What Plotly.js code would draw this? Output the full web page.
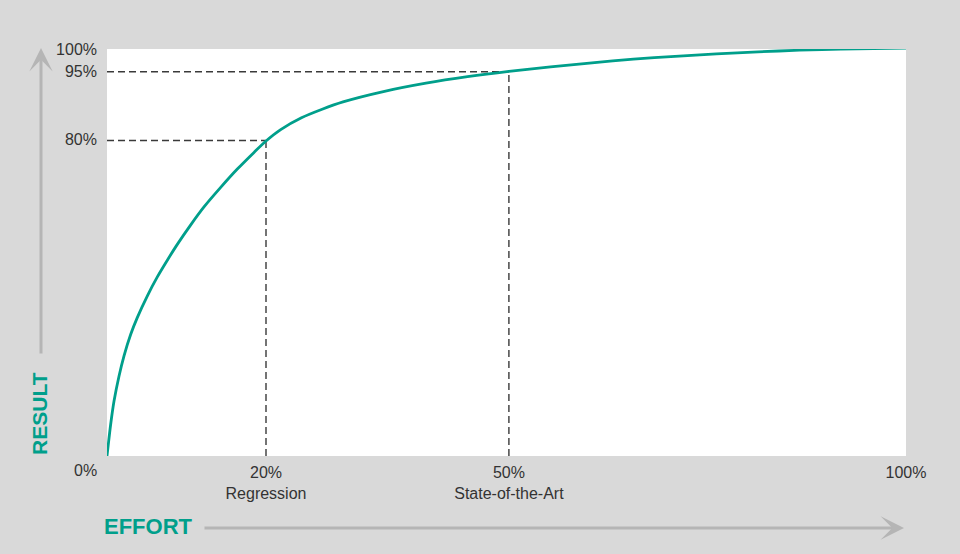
<!DOCTYPE html>
<html>
<head>
<meta charset="utf-8">
<script src="https://cdn.plot.ly/plotly-3.0.1.min.js"></script>
<style>
  html, body { margin: 0; padding: 0; background: #d9d9d9; }
  #chart { width: 960px; height: 554px; }
</style>
</head>
<body>
<div id="chart"></div>
<script>
// Effort (%) and result (position on the result axis)
const effort = [0, 0.46, 0.88, 1.5, 2.13, 2.97, 3.79, 5.04, 6.3, 7.55, 8.8, 10.48, 12.14, 14.23, 16.31, 18.4, 19.9, 21.74, 24.34, 26.93, 29.54, 34.73, 39.92, 45.12, 50.3, 55.51, 60.7, 65.88, 71.09, 76.27, 81.48, 86.66, 91.86, 100];
const result = [0, 7.8, 13.5, 19.6, 24.6, 29.9, 34.0, 39.3, 44.0, 48.1, 52.0, 56.8, 61.2, 66.0, 70.5, 74.6, 77.4, 80.2, 83.1, 85.2, 87.0, 89.6, 91.6, 93.2, 94.5, 95.6, 96.6, 97.5, 98.2, 98.8, 99.3, 99.7, 100.0, 100.2];

// Reference points marked with dashed guides
const markerX = [19.9, 50.3];
const markerY = [77.5, 94.4];

// Tick labels
const xTickVals = [19.9, 50.3, 100];
const xTickText = ['20%<br>Regression', '50%<br>State-of-the-Art', '100%'];
const yTickVals = [77.7, 94.4, 100];
const yTickText = ['80%', '95%', '100%'];

const teal = '#009f8b';
const arrowGray = '#b5b5b5';
const textColor = '#333333';

const traces = [{
  x: effort,
  y: result,
  type: 'scatter',
  mode: 'lines',
  line: { color: teal, width: 2.8, shape: 'spline', smoothing: 0.8 },
  cliponaxis: false,
  hoverinfo: 'skip'
}];

const shapes = [];
markerX.forEach((mx, i) => {
  const my = markerY[i];
  shapes.push({ type: 'line', xref: 'x', yref: 'y', x0: 0, x1: mx, y0: my, y1: my,
    line: { color: '#3a3a3a', width: 1.4, dash: '7px,4px' }, layer: 'below' });
  shapes.push({ type: 'line', xref: 'x', yref: 'y', x0: mx, x1: mx, y0: 0, y1: my,
    line: { color: '#3a3a3a', width: 1.4, dash: '7px,4px' }, layer: 'below' });
});

const annotations = [
  // 0% corner label
  { x: 0, y: 0, xref: 'x', yref: 'paper', text: '0%', showarrow: false,
    xanchor: 'center', yanchor: 'top', xshift: -22, yshift: -4,
    font: { family: 'Liberation Sans, Arial, sans-serif', size: 16, color: textColor } },
  // vertical arrow (RESULT)
  { x: -0.0826, y: 1.0025, xref: 'paper', yref: 'paper', ax: 0, ay: 307,
    axref: 'pixel', ayref: 'pixel', showarrow: true, arrowhead: 3, arrowsize: 1.3,
    arrowwidth: 3, arrowcolor: arrowGray, text: '' },
  // horizontal arrow (EFFORT)
  { x: 0.9975, y: -0.1769, xref: 'paper', yref: 'paper', ax: -701, ay: 0,
    axref: 'pixel', ayref: 'pixel', showarrow: true, arrowhead: 3, arrowsize: 1.3,
    arrowwidth: 3, arrowcolor: arrowGray, text: '' },
  { x: -0.0839, y: 0.1057, xref: 'paper', yref: 'paper', text: '<b>RESULT</b>',
    textangle: -90, showarrow: false, xanchor: 'center', yanchor: 'middle',
    font: { family: 'Liberation Sans, Arial, sans-serif', size: 21, color: teal } },
  { x: 0.052, y: -0.1744, xref: 'paper', yref: 'paper', text: '<b>EFFORT</b>',
    showarrow: false, xanchor: 'center', yanchor: 'middle',
    font: { family: 'Liberation Sans, Arial, sans-serif', size: 22, color: teal } }
];

const layout = {
  width: 960,
  height: 554,
  margin: { l: 107, r: 54, t: 49, b: 98, pad: 0 },
  paper_bgcolor: '#d9d9d9',
  plot_bgcolor: '#ffffff',
  showlegend: false,
  font: { family: 'Liberation Sans, Arial, sans-serif', size: 16, color: textColor },
  xaxis: {
    range: [0, 100],
    tickvals: xTickVals,
    ticktext: xTickText,
    showgrid: false, zeroline: false, showline: false,
    ticks: '', ticklabelstandoff: 5,
    fixedrange: true
  },
  yaxis: {
    range: [0, 100],
    tickvals: yTickVals,
    ticktext: yTickText,
    showgrid: false, zeroline: false, showline: false,
    ticks: '', ticklabelstandoff: 9,
    fixedrange: true
  },
  shapes: shapes,
  annotations: annotations
};

Plotly.newPlot('chart', traces, layout, { displayModeBar: false, staticPlot: true });
</script>
</body>
</html>
